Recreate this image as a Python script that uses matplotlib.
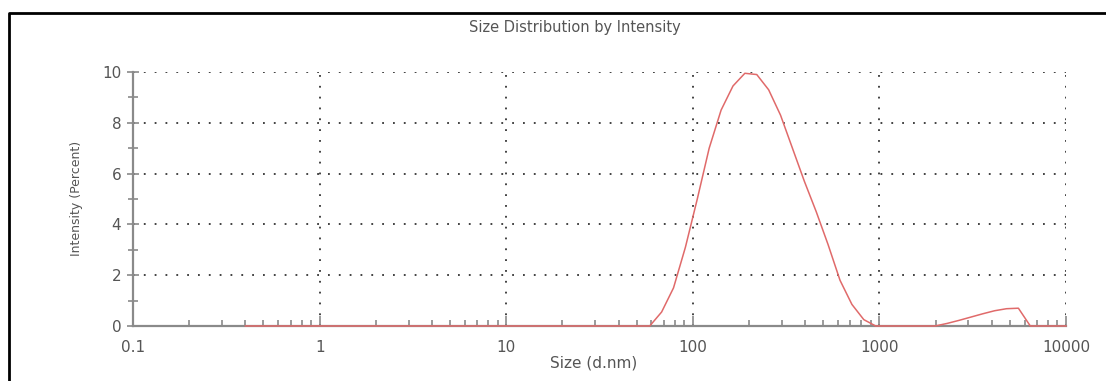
import matplotlib
matplotlib.use("Agg")
import matplotlib.pyplot as plt
from matplotlib.lines import Line2D
from matplotlib.ticker import LogLocator, NullFormatter, MultipleLocator

# size bins (d.nm) and intensity (%)
sizes = [0.4, 58.77, 68.06, 78.82, 91.28, 105.7, 122.4, 141.8, 164.2, 190.1,
         220.2, 255.0, 295.3, 342.0, 396.1, 458.7, 531.2, 615.1, 712.4, 825.0,
         955.4, 1106, 1281, 1484, 1718, 1990, 2305, 2669, 3091, 3580,
         4145, 4801, 5560, 6439, 7456, 8635, 10000]
intensity = [0.0, 0.0, 0.55, 1.5, 3.1, 5.0, 7.0, 8.5, 9.45, 9.95,
             9.9, 9.3, 8.3, 7.0, 5.7, 4.5, 3.2, 1.8, 0.85, 0.25,
             0.0, 0.0, 0.0, 0.0, 0.0, 0.0, 0.1, 0.22, 0.35, 0.48,
             0.6, 0.68, 0.7, 0.0, 0.0, 0.0, 0.0]

x_ticks = [0.1, 1, 10, 100, 1000, 10000]
x_labels = ["0.1", "1", "10", "100", "1000", "10000"]
y_ticks = [0, 2, 4, 6, 8, 10]

plt.rcParams['font.family'] = ['DejaVu Sans']

fig = plt.figure(figsize=(11.06, 3.81), dpi=100)
ax = fig.add_axes([0.1203, 0.1444, 0.8435, 0.6666])

ax.plot(sizes, intensity, color='#e06a6a', lw=1.1, zorder=5, clip_on=False)

ax.set_xscale('log')
ax.set_xlim(0.1, 10000)
ax.set_ylim(0, 10)
ax.set_xticks(x_ticks)
ax.set_xticklabels(x_labels)
ax.set_yticks(y_ticks)
ax.xaxis.set_minor_locator(LogLocator(base=10, subs=range(2, 10)))
ax.xaxis.set_minor_formatter(NullFormatter())
ax.yaxis.set_minor_locator(MultipleLocator(1))

ax.grid(True, which='major', color='#333333', linestyle=(0, (1, 5)), lw=1.3)
for s in ['top', 'right']:
    ax.spines[s].set_visible(False)
for s in ['left', 'bottom']:
    ax.spines[s].set_color('#8a8a8a')
    ax.spines[s].set_linewidth(1.6)

ax.tick_params(axis='y', which='both', direction='inout', color='#8a8a8a',
               width=1.2, labelcolor='#555555', labelsize=11, pad=4)
ax.tick_params(axis='y', which='major', length=9)
ax.tick_params(axis='y', which='minor', length=7)
ax.tick_params(axis='x', which='both', direction='in', color='#8a8a8a',
               width=1.2, labelcolor='#555555', labelsize=11, pad=10)
ax.tick_params(axis='x', which='major', length=7)
ax.tick_params(axis='x', which='minor', length=4)

fig.text(0.52, 0.929, 'Size Distribution by Intensity', ha='center', va='center',
         fontsize=10.5, color='#555555')
fig.text(0.537, 0.047, 'Size (d.nm)', ha='center', va='center',
         fontsize=11, color='#555555')
fig.text(0.069, 0.48, 'Intensity (Percent)', ha='center', va='center',
         rotation=90, fontsize=9, color='#555555')

# outer frame (top and left edges visible in the original)
fig.add_artist(Line2D([0.0081, 0.0081, 1.0], [0.0, 0.966, 0.966],
                      transform=fig.transFigure, color='black', lw=2))

fig.savefig('out.png', dpi=100)
